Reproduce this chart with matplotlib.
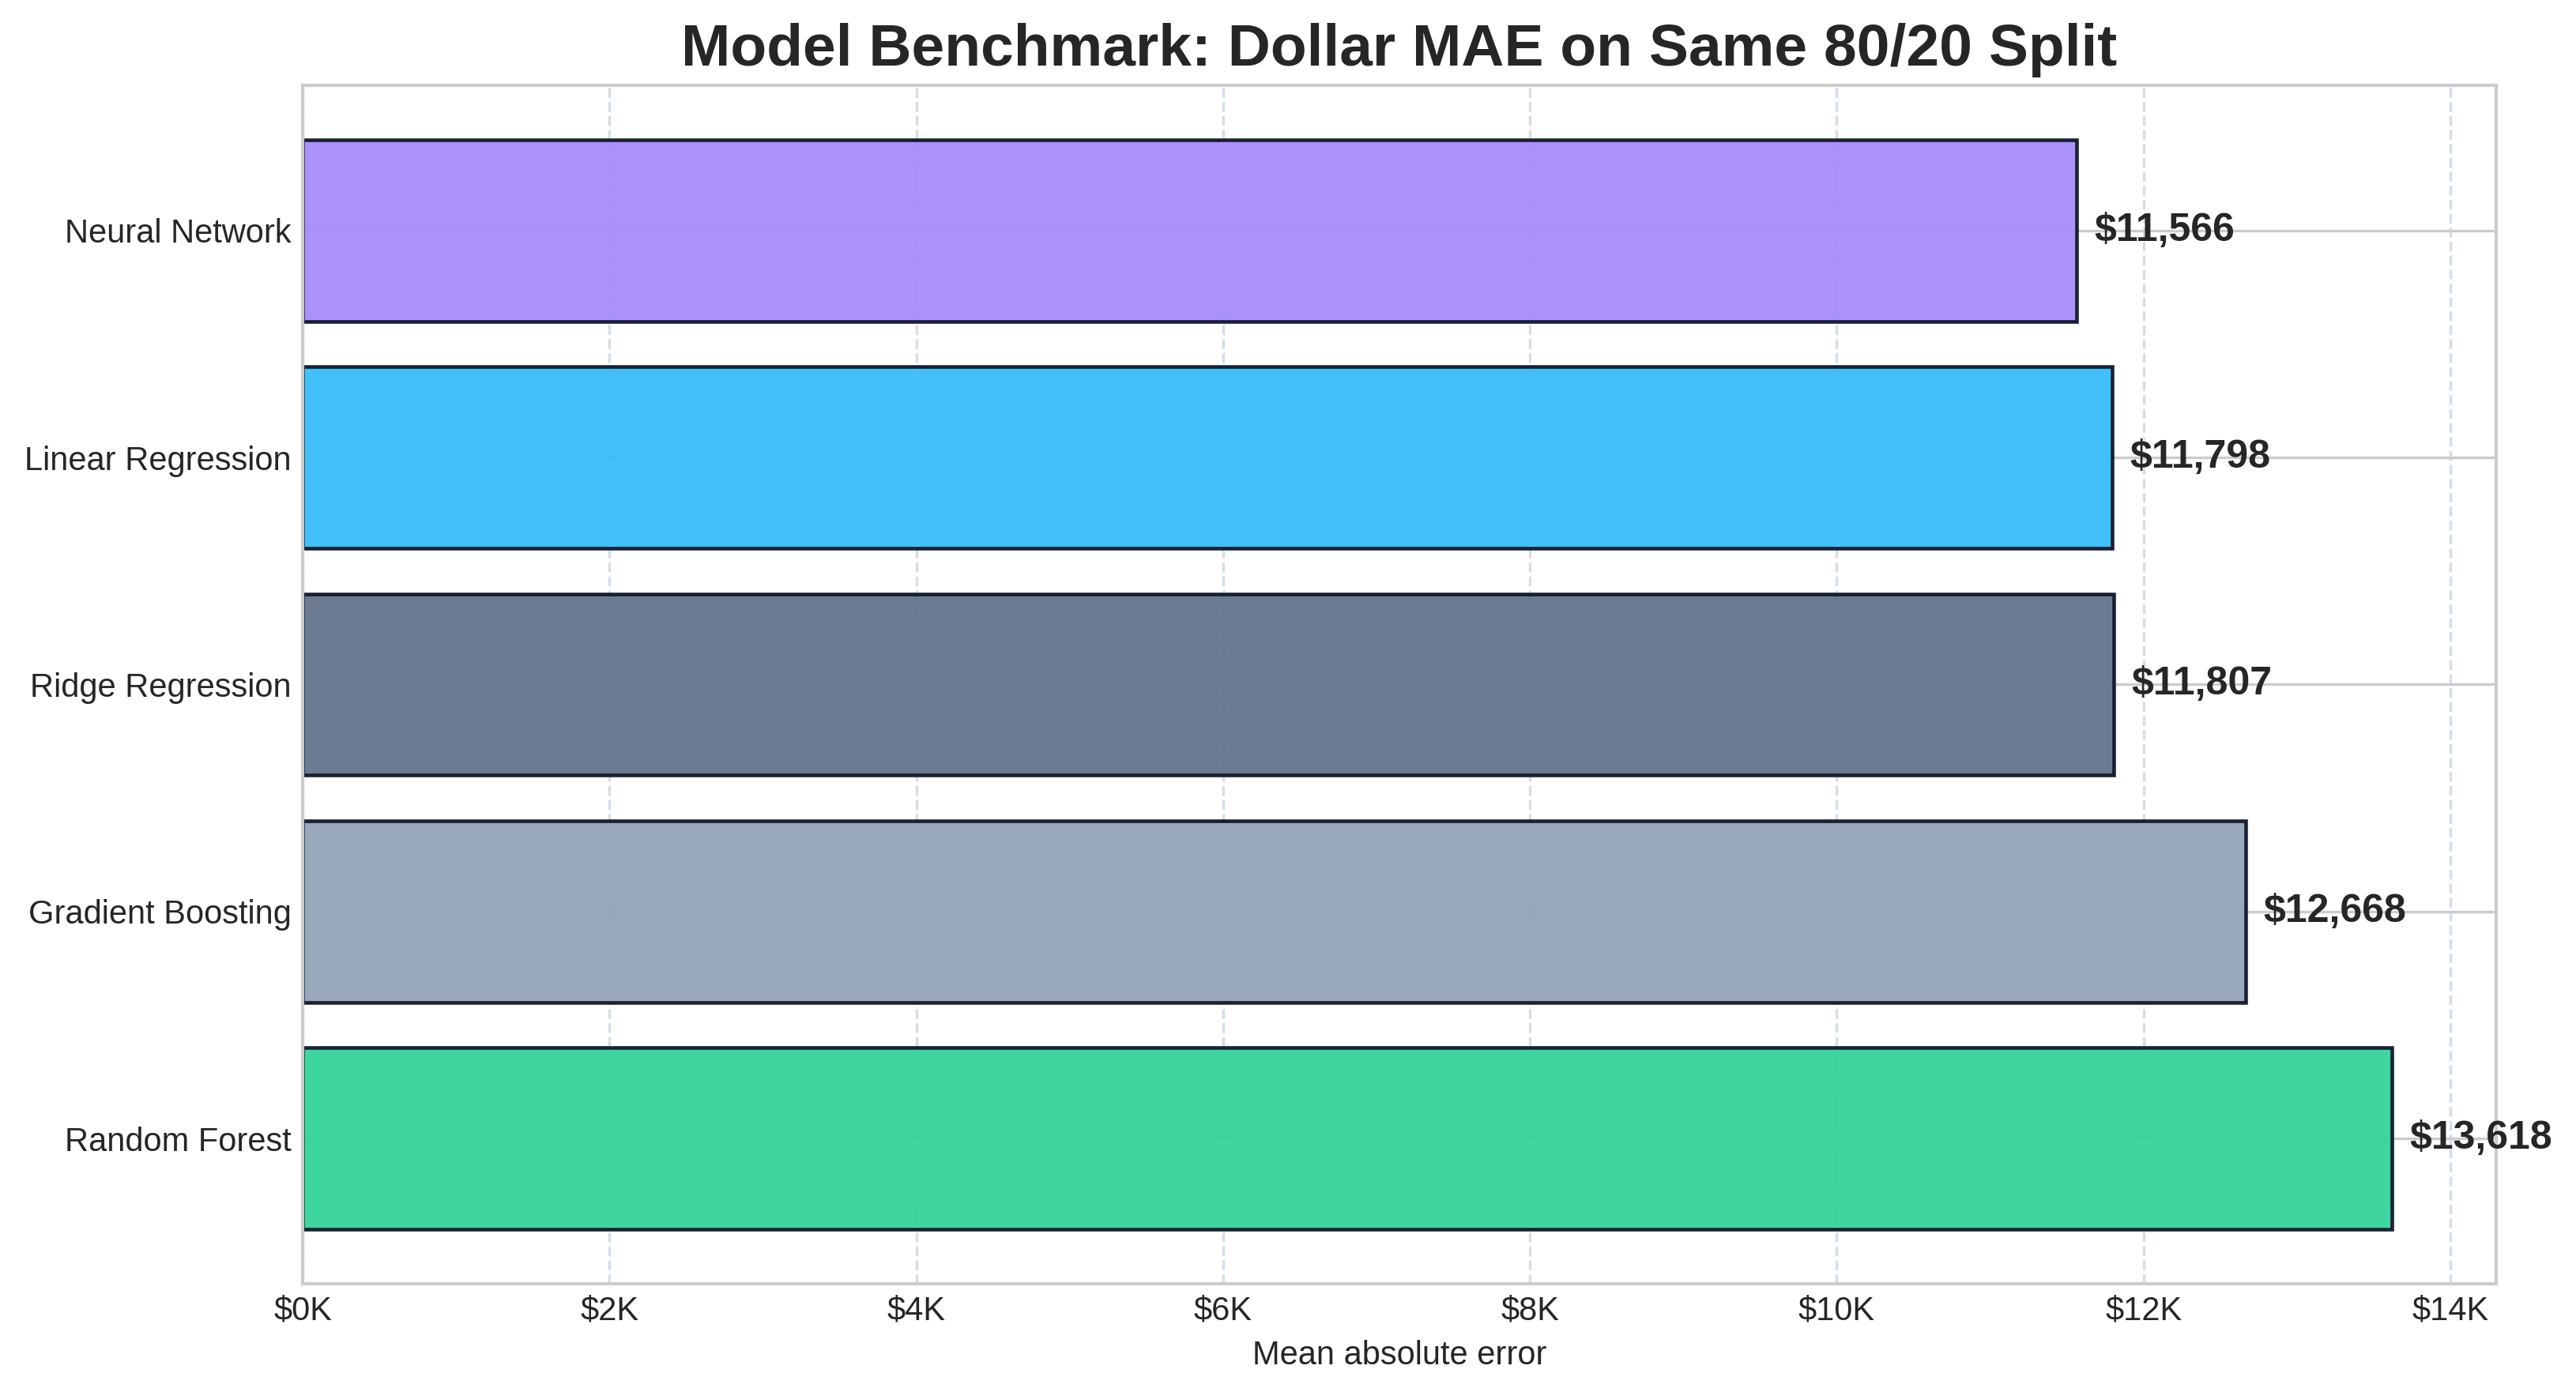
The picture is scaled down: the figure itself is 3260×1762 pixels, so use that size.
import matplotlib
matplotlib.use("Agg")
import matplotlib.pyplot as plt
from matplotlib.ticker import FuncFormatter

models = ["Random Forest", "Gradient Boosting", "Ridge Regression",
          "Linear Regression", "Neural Network"]
mae = [13618, 12668, 11807, 11798, 11566]
colors = ["#34d399", "#94a3b8", "#64748b", "#38bdf8", "#a78bfa"]

plt.style.use("seaborn-v0_8-whitegrid")
plt.rcParams["font.family"] = ["Liberation Sans", "DejaVu Sans"]
plt.rcParams["text.color"] = "#262626"
plt.rcParams["axes.labelcolor"] = "#262626"
plt.rcParams["xtick.color"] = "#262626"
plt.rcParams["ytick.color"] = "#262626"

fig, ax = plt.subplots(figsize=(3260 / 300, 1762 / 300), dpi=300)
fig.subplots_adjust(left=0.1175, right=0.969, top=0.9387, bottom=0.0778)

ax.barh(models, mae, height=0.8, color=colors, edgecolor="#0f172a",
        linewidth=1.1, alpha=0.95)

xmax = max(mae) * 1.05
ax.set_xlim(0, xmax)
for i, v in enumerate(mae):
    ax.text(v + xmax * 0.008, i, f"${v:,.0f}", va="center", ha="left",
            fontsize=12, fontweight="bold", color="#262626")

ax.xaxis.set_major_formatter(FuncFormatter(lambda x, p: f"${x / 1000:.0f}K"))
ax.grid(axis="x", linestyle="--", color="#cbd5e1", alpha=0.8)
ax.set_axisbelow(True)

ax.set_title("Model Benchmark: Dollar MAE on Same 80/20 Split",
             fontsize=18, fontweight="bold")
ax.set_xlabel("Mean absolute error", fontsize=10)
ax.tick_params(labelsize=10)

fig.savefig("out.png", dpi=300)
